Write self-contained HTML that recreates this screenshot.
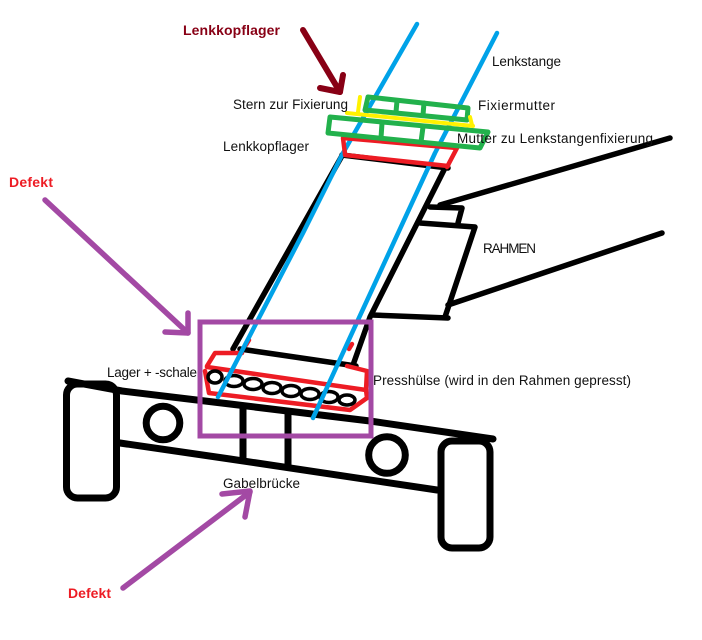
<!DOCTYPE html>
<html>
<head>
<meta charset="utf-8">
<style>
  html,body{margin:0;padding:0;background:#fff;}
  svg{display:block;}
  text{font-family:"Liberation Sans",Arial,sans-serif;}
</style>
</head>
<body>
<svg width="702" height="640" viewBox="0 0 702 640" xmlns="http://www.w3.org/2000/svg">
  <rect x="0" y="0" width="702" height="640" fill="#ffffff"/>

  <!-- ===== Fork bridge (black) ===== -->
  <g fill="none" stroke="#000" stroke-width="7" stroke-linecap="round" stroke-linejoin="round">
    <rect x="66.5" y="384" width="50" height="114" rx="11" ry="11"/>
    <rect x="441" y="441" width="49" height="107" rx="11" ry="11"/>
    <polyline points="68,381 122,391 230,404 370,421 493,439"/>
    <polyline points="120,443 230,459 437,490"/>
    <line x1="243" y1="408" x2="243" y2="460"/>
    <line x1="288" y1="413" x2="288" y2="465"/>
    <circle cx="163" cy="423" r="16.8"/>
    <circle cx="387" cy="455" r="18.3"/>
  </g>

  <!-- ===== Frame (black) ===== -->
  <g fill="none" stroke="#000" stroke-width="5.5" stroke-linecap="round" stroke-linejoin="round">
    <line x1="440" y1="205" x2="670" y2="138"/>
    <polyline points="430,207 462,208 458,223"/>
    <polyline points="420,223 475,227 445,317"/>
    <line x1="372" y1="315" x2="448" y2="318"/>
    <line x1="448" y1="305" x2="662" y2="233"/>
    <line x1="342" y1="155" x2="448" y2="168"/>
    <line x1="343" y1="154" x2="233" y2="349"/>
    <polyline points="444,170 370,317 353,365"/>
    <line x1="240" y1="349" x2="356" y2="366"/>
  </g>

  <!-- ===== Presshülse (red) ===== -->
  <g fill="none" stroke="#ed1c24" stroke-width="4.5" stroke-linecap="round" stroke-linejoin="round">
    <polyline points="207,366 215,353 242,353"/>
    <polyline points="347,366 367,371 366,390"/>
    <line x1="207" y1="367" x2="366" y2="390"/>
    <polyline points="205,371 209,393 350,410 367,398 366,390"/>
    <line x1="246" y1="345" x2="249" y2="340"/>
    <line x1="349" y1="349" x2="352" y2="344"/>
  </g>

  <!-- bearing balls -->
  <g fill="none" stroke="#000" stroke-width="3.5">
    <ellipse cx="215" cy="377" rx="7" ry="6"/>
    <ellipse cx="234" cy="381" rx="9" ry="5.5"/>
    <ellipse cx="253" cy="384" rx="9" ry="5.5"/>
    <ellipse cx="272" cy="388" rx="9" ry="5.5"/>
    <ellipse cx="291" cy="391" rx="9" ry="5.5"/>
    <ellipse cx="310" cy="394" rx="9" ry="5.5"/>
    <ellipse cx="329" cy="397" rx="9" ry="5.5"/>
    <ellipse cx="347" cy="400" rx="8" ry="5"/>
  </g>

  <!-- ===== Lenkstange (blue) ===== -->
  <g fill="none" stroke="#00a2e8" stroke-width="4.5" stroke-linecap="round" stroke-linejoin="round">
    <polyline points="417,24 343,153 303,233 218,397"/>
    <polyline points="497,33 435,153 358,320 313,418"/>
  </g>

  <!-- ===== Lenkkopflager (red) ===== -->
  <g fill="none" stroke="#ed1c24" stroke-width="4.5" stroke-linecap="round" stroke-linejoin="round">
    <polyline points="345,154 343,138 457,148 447,167"/>
    <line x1="345" y1="155" x2="448" y2="166"/>
  </g>

  <!-- ===== Nuts (green) ===== -->
  <g fill="none" stroke="#22b14c" stroke-width="5" stroke-linecap="round" stroke-linejoin="round">
    <polygon points="330,117 488,132 480,148 328,133"/>
    <line x1="382" y1="123" x2="381" y2="138"/>
    <line x1="423" y1="127" x2="421" y2="142"/>
    <polygon points="368,97 468,108 467,120 365,110"/>
    <line x1="397" y1="101" x2="396" y2="112"/>
    <line x1="424" y1="103" x2="423" y2="115"/>
  </g>

  <!-- ===== Stern (yellow) ===== -->
  <g fill="none" stroke="#fff200" stroke-width="4" stroke-linecap="round" stroke-linejoin="round">
    <line x1="360" y1="97" x2="358" y2="112"/>
    <line x1="347" y1="113" x2="473" y2="126"/>
    <line x1="470" y1="117" x2="472" y2="125"/>
  </g>

  <!-- ===== Dark red arrow ===== -->
  <g fill="none" stroke="#880015" stroke-width="6" stroke-linecap="round" stroke-linejoin="round">
    <line x1="303" y1="30" x2="340" y2="92"/>
    <polyline points="320,88 340,92 343,75"/>
  </g>

  <!-- ===== Purple box and arrows ===== -->
  <g fill="none" stroke="#a349a4" stroke-width="5">
    <rect x="200" y="322" width="171" height="114"/>
  </g>
  <g fill="none" stroke="#a349a4" stroke-width="5.5" stroke-linecap="round" stroke-linejoin="round">
    <line x1="45" y1="200" x2="188" y2="333"/>
    <polyline points="165,332 188,333 188,313"/>
    <line x1="123" y1="588" x2="250" y2="492"/>
    <polyline points="222,494 250,491 245,517"/>
  </g>

  <!-- ===== Labels ===== -->
  <g fill="#111" font-size="13.5">
    <text x="492" y="66" textLength="69" lengthAdjust="spacing">Lenkstange</text>
    <text x="233" y="109" textLength="115" lengthAdjust="spacing">Stern zur Fixierung</text>
    <text x="478" y="110" textLength="77" lengthAdjust="spacing">Fixiermutter</text>
    <text x="223" y="151" textLength="86" lengthAdjust="spacing">Lenkkopflager</text>
    <text x="457" y="143" textLength="196" lengthAdjust="spacing">Mutter zu Lenkstangenfixierung</text>
    <text x="483" y="253" textLength="53" lengthAdjust="spacing">RAHMEN</text>
    <text x="107" y="377" textLength="90" lengthAdjust="spacing">Lager + -schale</text>
    <text x="373" y="385" textLength="258" lengthAdjust="spacing">Presshülse (wird in den Rahmen gepresst)</text>
    <text x="223" y="488" textLength="77" lengthAdjust="spacing">Gabelbrücke</text>
  </g>
  <g font-size="14" font-weight="bold">
    <text x="183" y="35" fill="#880015" textLength="97" lengthAdjust="spacing">Lenkkopflager</text>
    <text x="9" y="187" fill="#ed1c24" textLength="44" lengthAdjust="spacing">Defekt</text>
    <text x="68" y="598" fill="#ed1c24" textLength="43" lengthAdjust="spacing">Defekt</text>
  </g>
</svg>
</body>
</html>
